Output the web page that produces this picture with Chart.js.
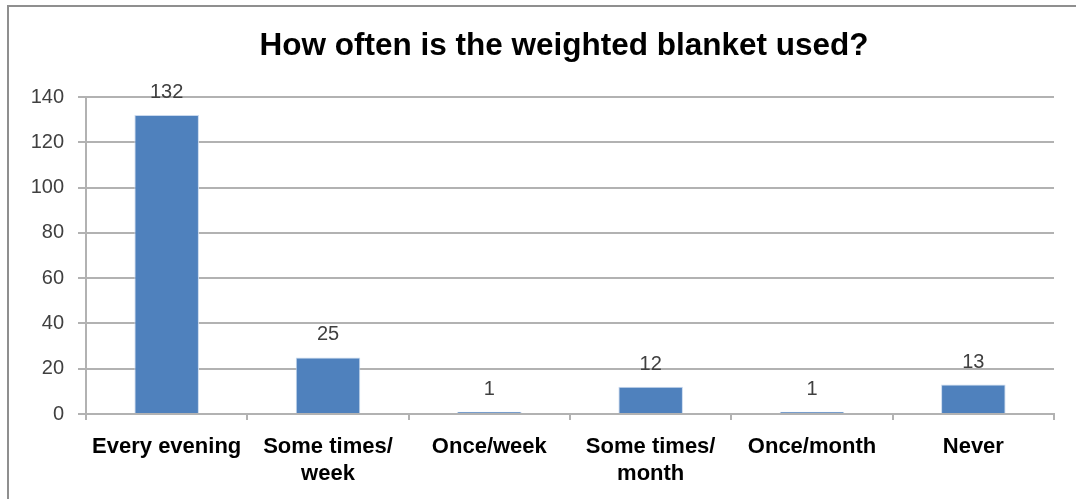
<!DOCTYPE html>
<html>
<head>
<meta charset="utf-8">
<script src="https://cdn.jsdelivr.net/npm/chart.js@4"></script>
<style>
  html, body { margin: 0; padding: 0; background: #fff; }
  #wrap { position: relative; width: 1076px; height: 499px; overflow: hidden; }
  #frame { position: absolute; left: 7px; top: 5px; right: -10px; bottom: -10px;
           border-left: 2px solid #8f8f8f; border-top: 2px solid #8f8f8f; pointer-events: none; }
  canvas { position: absolute; left: 0; top: 0; }
</style>
</head>
<body>
<div id="wrap">
  <canvas id="chart" width="1076" height="499"></canvas>
  <div id="frame"></div>
</div>
<script>
// Survey answers: how often the weighted blanket is used
const categories = [["Every evening"], ["Some times/", "week"], ["Once/week"], ["Some times/", "month"], ["Once/month"], ["Never"]];
const counts = [132, 25, 1, 12, 1, 13];
const yMin = 0;
const yMax = 140;
const yStep = 20;
const chartTitle = 'How often is the weighted blanket used?';

const FONT = '"Liberation Sans", Arial, Helvetica, sans-serif';
const GRID = '#b2b2b2';

// Heading, drawn slightly left of the plot centre
const heading = {
  id: 'heading',
  afterDraw(chart) {
    const ctx = chart.ctx;
    ctx.save();
    ctx.font = 'bold 31.5px ' + FONT;
    ctx.fillStyle = '#000';
    ctx.textAlign = 'center';
    ctx.textBaseline = 'alphabetic';
    ctx.fillText(chartTitle, 564, 55);
    ctx.restore();
  }
};

// Writes each count above its bar
const valueLabels = {
  id: 'valueLabels',
  afterDatasetsDraw(chart) {
    const ctx = chart.ctx;
    const meta = chart.getDatasetMeta(0);
    ctx.save();
    ctx.font = '20px ' + FONT;
    ctx.fillStyle = '#404040';
    ctx.textAlign = 'center';
    ctx.textBaseline = 'alphabetic';
    meta.data.forEach((bar, i) => {
      ctx.fillText(String(counts[i]), bar.x, bar.y - 17);
    });
    ctx.restore();
  }
};

new Chart(document.getElementById('chart'), {
  type: 'bar',
  data: {
    labels: categories,
    datasets: [{
      data: counts,
      backgroundColor: '#4f81bd',
      borderColor: '#c9d9ee',
      borderWidth: 1,
      borderSkipped: 'bottom',
      barPercentage: 0.4,
      categoryPercentage: 1.0
    }]
  },
  options: {
    responsive: false,
    animation: false,
    layout: { padding: { left: 20, right: 22, top: 97, bottom: 12 } },
    plugins: {
      legend: { display: false },
      tooltip: { enabled: false },
      title: { display: false }
    },
    scales: {
      x: {
        grid: { drawOnChartArea: false, drawTicks: true, tickLength: 6, offset: true, color: GRID, lineWidth: 2 },
        border: { color: GRID, width: 2 },
        ticks: {
          color: '#000',
          font: { family: FONT, size: 22, weight: 'bold', lineHeight: 1.21 },
          padding: 14,
          maxRotation: 0,
          autoSkip: false
        },
        afterFit(scale) { scale.height = 73; }
      },
      y: {
        min: yMin,
        max: yMax,
        grid: { color: GRID, lineWidth: 2, tickLength: 8 },
        border: { color: GRID, width: 2 },
        ticks: {
          stepSize: yStep,
          color: '#404040',
          font: { family: FONT, size: 20 },
          padding: 14
        },
        afterFit(scale) { scale.width = 66; }
      }
    }
  },
  plugins: [valueLabels, heading]
});
</script>
</body>
</html>
